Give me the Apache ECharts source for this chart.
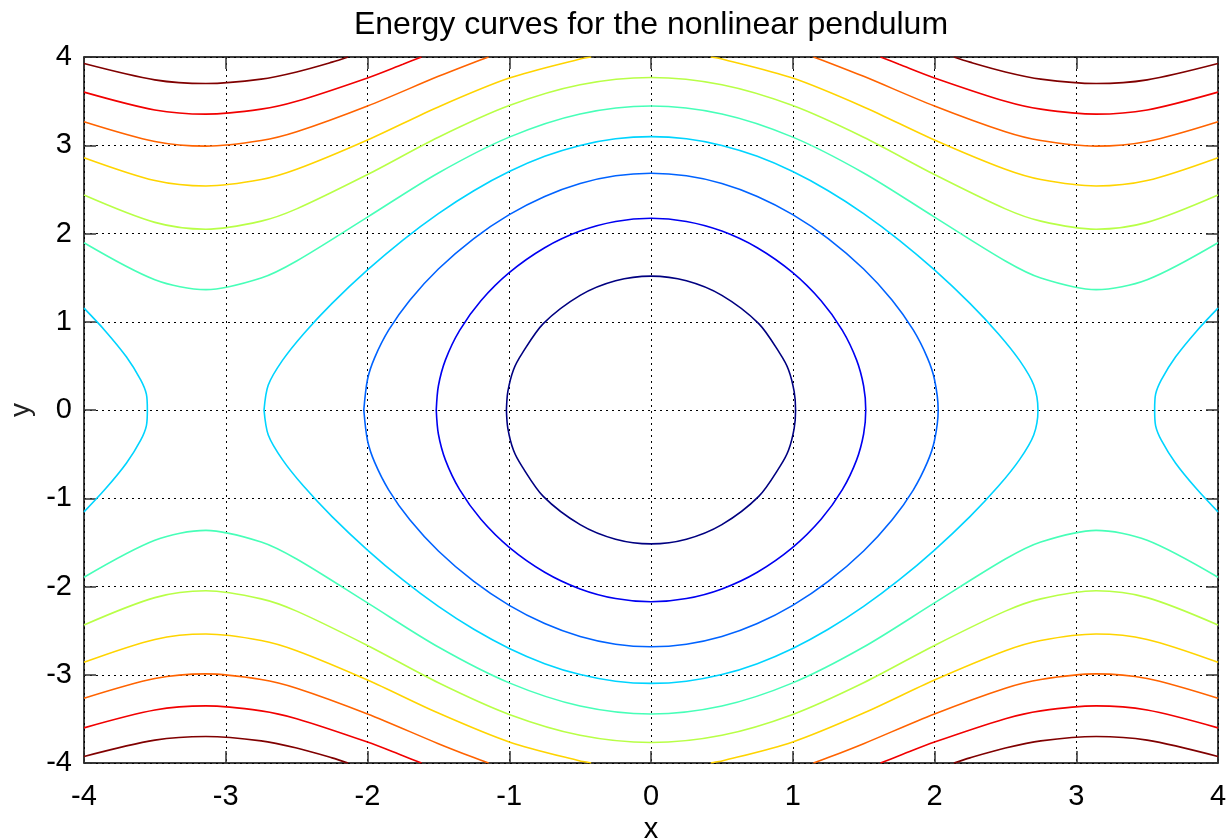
<!DOCTYPE html>
<html>
  <head>
    <meta charset="UTF-8">
    <title>Energy curves for the nonlinear pendulum</title>
    <script src="https://cdn.jsdelivr.net/npm/echarts@6/dist/echarts.min.js"></script>
    <style>
    * {
      margin: 0;
      padding: 0;
    }
    </style>
  </head>
  <body>
    <div id="main" style="width: 1228px;height: 838px"></div>
    <script>
// contour levels (innermost blue to outer dark red)
var tickValues = [-4, -3, -2, -1, 0, 1, 2, 3, 4]
var levelValues = [-1.35, -0.14, 1.1, 2.3, 3.43, 4.6, 5.72, 6.97, 8.12, 9.34]
var levelColors = ['#000080', '#0000f1', '#0063ff', '#00d4ff', '#47ffb8',
                   '#b8ff47', '#ffd400', '#ff6300', '#f10000', '#800000']

// each level is a list of pieces, each piece a list of [x, y]
var level1 = [
  [[-1.02,0],[-1.01,0.208],[-0.97,0.457],[-0.91,0.639],[-0.76,0.979],[-0.5,1.299],[-0.25,1.464],[0,1.517],
   [0.25,1.464],[0.5,1.299],[0.76,0.979],[0.91,0.639],[0.97,0.457],[1.01,0.208],[1.02,0],
   [1.01,-0.208],[0.97,-0.457],[0.91,-0.639],[0.76,-0.979],[0.5,-1.299],[0.25,-1.464],[0,-1.517],
   [-0.25,-1.464],[-0.5,-1.299],[-0.76,-0.979],[-0.91,-0.639],[-0.97,-0.457],[-1.01,-0.208],[-1.02,0]]
]
var level2 = [
  [[-1.515,0],[-1.5,0.272],[-1.45,0.568],[-1.35,0.903],[-1.2,1.238],[-1,1.556],[-0.75,1.838],[-0.5,2.027],[-0.25,2.136],[0,2.173],
   [0.25,2.136],[0.5,2.027],[0.75,1.838],[1,1.556],[1.2,1.238],[1.35,0.903],[1.45,0.568],[1.5,0.272],[1.515,0],
   [1.5,-0.272],[1.45,-0.568],[1.35,-0.903],[1.2,-1.238],[1,-1.556],[0.75,-1.838],[0.5,-2.027],[0.25,-2.136],[0,-2.173],
   [-0.25,-2.136],[-0.5,-2.027],[-0.75,-1.838],[-1,-1.556],[-1.2,-1.238],[-1.35,-0.903],[-1.45,-0.568],[-1.5,-0.272],[-1.515,0]]
]
var level3 = [
  [[-2.026,0],[-2,0.346],[-1.95,0.591],[-1.85,0.907],[-1.7,1.247],[-1.5,1.598],[-1.25,1.943],[-1,2.214],[-0.75,2.42],[-0.5,2.567],[-0.25,2.654],[0,2.683],
   [0.25,2.654],[0.5,2.567],[0.75,2.42],[1,2.214],[1.25,1.943],[1.5,1.598],[1.7,1.247],[1.85,0.907],[1.95,0.591],[2,0.346],[2.026,0],
   [2,-0.346],[1.95,-0.591],[1.85,-0.907],[1.7,-1.247],[1.5,-1.598],[1.25,-1.943],[1,-2.214],[0.75,-2.42],[0.5,-2.567],[0.25,-2.654],[0,-2.683],
   [-0.25,-2.654],[-0.5,-2.567],[-0.75,-2.42],[-1,-2.214],[-1.25,-1.943],[-1.5,-1.598],[-1.7,-1.247],[-1.85,-0.907],[-1.95,-0.591],[-2,-0.346],[-2.026,0]]
]
var level4 = [
  [[-2.73,0],[-2.7,0.283],[-2.6,0.562],[-2.45,0.865],[-2.25,1.208],[-2,1.587],[-1.75,1.926],[-1.5,2.226],[-1.25,2.485],[-1,2.702],[-0.75,2.874],[-0.5,2.998],[-0.25,3.073],[0,3.098],
   [0.25,3.073],[0.5,2.998],[0.75,2.874],[1,2.702],[1.25,2.485],[1.5,2.226],[1.75,1.926],[2,1.587],[2.25,1.208],[2.45,0.865],[2.6,0.562],[2.7,0.283],[2.73,0],
   [2.7,-0.283],[2.6,-0.562],[2.45,-0.865],[2.25,-1.208],[2,-1.587],[1.75,-1.926],[1.5,-2.226],[1.25,-2.485],[1,-2.702],[0.75,-2.874],[0.5,-2.998],[0.25,-3.073],[0,-3.098],
   [-0.25,-3.073],[-0.5,-2.998],[-0.75,-2.874],[-1,-2.702],[-1.25,-2.485],[-1.5,-2.226],[-1.75,-1.926],[-2,-1.587],[-2.25,-1.208],[-2.45,-0.865],[-2.6,-0.562],[-2.7,-0.283],[-2.73,0]],
  [[4,1.154],[3.85,0.896],[3.7,0.6],[3.6,0.341],[3.56,0.179],[3.553,0],[3.56,-0.179],[3.6,-0.341],[3.7,-0.6],[3.85,-0.896],[4,-1.154]],
  [[-4,1.154],[-3.85,0.896],[-3.7,0.6],[-3.6,0.341],[-3.56,0.179],[-3.553,0],[-3.56,-0.179],[-3.6,-0.341],[-3.7,-0.6],[-3.85,-0.896],[-4,-1.154]]
]
var level5 = [
  [[-4,1.895],[-3.5,1.476],[-3.14,1.364],[-2.75,1.496],[-2.5,1.689],[-2,2.186],[-1.5,2.686],[-1,3.092],[-0.5,3.354],[0,3.444],
   [0.5,3.354],[1,3.092],[1.5,2.686],[2,2.186],[2.5,1.689],[2.75,1.496],[3.14,1.364],[3.5,1.476],[4,1.895]],
  [[-4,-1.895],[-3.5,-1.476],[-3.14,-1.364],[-2.75,-1.496],[-2.5,-1.689],[-2,-2.186],[-1.5,-2.686],[-1,-3.092],[-0.5,-3.354],[0,-3.444],
   [0.5,-3.354],[1,-3.092],[1.5,-2.686],[2,-2.186],[2.5,-1.689],[2.75,-1.496],[3.14,-1.364],[3.5,-1.476],[4,-1.895]]
]
var level6 = [
  [[-4,2.436],[-3.5,2.126],[-3.14,2.049],[-2.75,2.14],[-2.5,2.279],[-2,2.668],[-1.5,3.091],[-1,3.45],[-0.5,3.686],[0,3.768],
   [0.5,3.686],[1,3.45],[1.5,3.091],[2,2.668],[2.5,2.279],[2.75,2.14],[3.14,2.049],[3.5,2.126],[4,2.436]],
  [[-4,-2.436],[-3.5,-2.126],[-3.14,-2.049],[-2.75,-2.14],[-2.5,-2.279],[-2,-2.668],[-1.5,-3.091],[-1,-3.45],[-0.5,-3.686],[0,-3.768],
   [0.5,-3.686],[1,-3.45],[1.5,-3.091],[2,-2.668],[2.5,-2.279],[2.75,-2.14],[3.14,-2.049],[3.5,-2.126],[4,-2.436]]
]
var level7 = [
  [[-4,2.859],[-3.5,2.6],[-3.14,2.538],[-2.75,2.611],[-2.5,2.727],[-2,3.059],[-1.5,3.434],[-1,3.761],[-0.5,3.978],[-0.422,4]],
  [[4,2.859],[3.5,2.6],[3.14,2.538],[2.75,2.611],[2.5,2.727],[2,3.059],[1.5,3.434],[1,3.761],[0.5,3.978],[0.422,4]],
  [[-4,-2.859],[-3.5,-2.6],[-3.14,-2.538],[-2.75,-2.611],[-2.5,-2.727],[-2,-3.059],[-1.5,-3.434],[-1,-3.761],[-0.5,-3.978],[-0.422,-4]],
  [[4,-2.859],[3.5,-2.6],[3.14,-2.538],[2.75,-2.611],[2.5,-2.727],[2,-3.059],[1.5,-3.434],[1,-3.761],[0.5,-3.978],[0.422,-4]]
]
var level8 = [
  [[-4,3.267],[-3.5,3.043],[-3.14,2.99],[-2.75,3.053],[-2.5,3.152],[-2,3.444],[-1.5,3.781],[-1.25,3.939],[-1.146,4]],
  [[4,3.267],[3.5,3.043],[3.14,2.99],[2.75,3.053],[2.5,3.152],[2,3.444],[1.5,3.781],[1.25,3.939],[1.146,4]],
  [[-4,-3.267],[-3.5,-3.043],[-3.14,-2.99],[-2.75,-3.053],[-2.5,-3.152],[-2,-3.444],[-1.5,-3.781],[-1.25,-3.939],[-1.146,-4]],
  [[4,-3.267],[3.5,-3.043],[3.14,-2.99],[2.75,-3.053],[2.5,-3.152],[2,-3.444],[1.5,-3.781],[1.25,-3.939],[1.146,-4]]
]
var level9 = [
  [[-4,3.602],[-3.5,3.4],[-3.14,3.353],[-2.75,3.409],[-2.5,3.498],[-2,3.763],[-1.75,3.918],[-1.619,4]],
  [[4,3.602],[3.5,3.4],[3.14,3.353],[2.75,3.409],[2.5,3.498],[2,3.763],[1.75,3.918],[1.619,4]],
  [[-4,-3.602],[-3.5,-3.4],[-3.14,-3.353],[-2.75,-3.409],[-2.5,-3.498],[-2,-3.763],[-1.75,-3.918],[-1.619,-4]],
  [[4,-3.602],[3.5,-3.4],[3.14,-3.353],[2.75,-3.409],[2.5,-3.498],[2,-3.763],[1.75,-3.918],[1.619,-4]]
]
var level10 = [
  [[-4,3.926],[-3.5,3.741],[-3.14,3.699],[-2.75,3.749],[-2.5,3.831],[-2.25,3.942],[-2.137,4]],
  [[4,3.926],[3.5,3.741],[3.14,3.699],[2.75,3.749],[2.5,3.831],[2.25,3.942],[2.137,4]],
  [[-4,-3.926],[-3.5,-3.741],[-3.14,-3.699],[-2.75,-3.749],[-2.5,-3.831],[-2.25,-3.942],[-2.137,-4]],
  [[4,-3.926],[3.5,-3.741],[3.14,-3.699],[2.75,-3.749],[2.5,-3.831],[2.25,-3.942],[2.137,-4]]
]
var levelCurves = [level1, level2, level3, level4, level5, level6, level7, level8, level9, level10]

var font = "'Liberation Sans', Arial, sans-serif"
var myChart = echarts.init(document.getElementById('main'))

var series = []
levelCurves.forEach(function (pieces, i) {
  pieces.forEach(function (piece) {
    series.push({
      type: 'line',
      name: 'E = ' + levelValues[i],
      data: piece,
      showSymbol: false,
      smooth: 0.3,
      silent: true,
      lineStyle: { color: levelColors[i], width: 1.6 }
    })
  })
})

function axisBase(position, labels) {
  return {
    type: 'value',
    position: position,
    min: tickValues[0],
    max: tickValues[tickValues.length - 1],
    interval: tickValues[1] - tickValues[0],
    axisLine: { show: true, onZero: false, lineStyle: { color: '#000', width: 1.5 } },
    axisTick: { show: true, inside: true, length: 12, lineStyle: { color: '#333', width: 1.5 } },
    axisLabel: {
      show: labels, fontSize: 29, color: '#000', fontFamily: font,
      showMinLabel: true, showMaxLabel: true, hideOverlap: false
    },
    splitLine: {
      show: labels,
      lineStyle: { color: '#000', width: 1, type: [2, 4] }
    }
  }
}

var xBottom = Object.assign(axisBase('bottom', true), {
  name: 'x', nameLocation: 'middle', nameGap: 52,
  nameTextStyle: { fontSize: 29, color: '#000', fontFamily: font }
})
xBottom.axisLabel.margin = 19
var yLeft = Object.assign(axisBase('left', true), {
  name: 'y', nameLocation: 'middle', nameGap: 46, nameRotate: 90,
  nameTextStyle: { fontSize: 28, color: '#222', fontFamily: font }
})
yLeft.axisLabel.margin = 12

var option = {
  animation: false,
  backgroundColor: '#fff',
  title: {
    text: 'Energy curves for the nonlinear pendulum',
    left: 651,
    top: 9,
    padding: 0,
    textAlign: 'center',
    textStyle: { fontSize: 32, fontWeight: 'normal', color: '#000', fontFamily: font }
  },
  grid: { left: 84, right: 10, top: 57, bottom: 75, containLabel: false, outerBoundsMode: 'none' },
  xAxis: [xBottom, axisBase('top', false)],
  yAxis: [yLeft, axisBase('right', false)],
  series: series
}
myChart.setOption(option)
    </script>
  </body>
</html>
